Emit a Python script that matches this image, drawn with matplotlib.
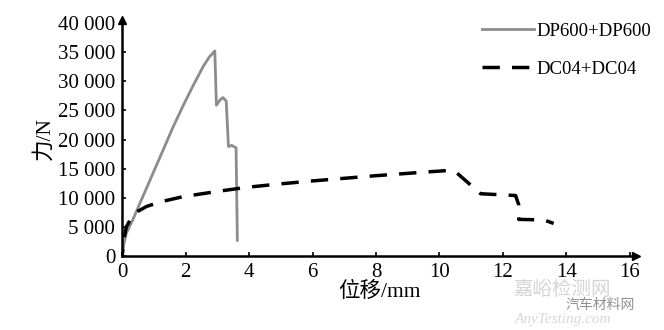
import matplotlib.pyplot as plt
from matplotlib.lines import Line2D
import numpy as np

# DP600+DP600 curve (displacement mm, force N)
dp_x = [0.0, 0.05, 0.13, 0.34, 0.65, 0.97, 1.29, 1.6, 1.92, 2.24, 2.55, 2.75, 2.92,
        2.97, 3.1, 3.18, 3.28, 3.35, 3.45, 3.59, 3.63]
dp_y = [0, 2000, 3900, 6300, 10200, 14200, 18200, 22100, 25800, 29300, 32500, 34200, 35200,
        25900, 26900, 27200, 26600, 18800, 19000, 18600, 2700]

# DC04+DC04 curve
dc_x = [0.0, 0.05, 0.13, 0.3, 0.5, 0.76, 1.2, 1.92, 3.0, 3.92, 5.0, 6.0, 8.0, 9.5, 10.3, 10.5, 11.3, 12.0,
        12.4, 12.5, 12.5, 13.3, 13.6]
dc_y = [0, 2800, 5000, 6700, 7700, 8500, 9300, 10200, 11100, 11800, 12400, 12900, 13800, 14400, 14700,
        14500, 10700, 10500, 10400, 8800, 6300, 6200, 5600]

x_ticks = [0, 2, 4, 6, 8, 10, 12, 14, 16]
y_ticks = [0, 5000, 10000, 15000, 20000, 25000, 30000, 35000, 40000]
y_labels = ['0', '5 000', '10 000', '15 000', '20 000', '25 000', '30 000', '35 000', '40 000']
series_names = ['DP600+DP600', 'DC04+DC04']

serif = ['Liberation Serif', 'Noto Sans CJK SC']

fig = plt.figure(figsize=(6.64, 3.30), dpi=100)
ax = fig.add_axes([0.184, 0.224, 0.774, 0.715])

ax.plot(dp_x, dp_y, color='#8c8c8c', lw=2)
ax.plot(dc_x, dc_y, color='black', lw=2.5, ls=(3, (5, 3.5)))

ax.set_xlim(0, 16.2)
ax.set_ylim(0, 40500)
ax.set_xticks(x_ticks)
ax.set_xticklabels([str(t) for t in x_ticks], family=serif, fontsize=15)
ax.set_yticks(y_ticks)
ax.set_yticklabels(y_labels, family=serif, fontsize=15)
ax.tick_params(direction='in', length=3, width=1.2, pad=5)

for s in ['top', 'right']:
    ax.spines[s].set_visible(False)
for s in ['left', 'bottom']:
    ax.spines[s].set_linewidth(1.8)

# arrow heads on the axes
ax.plot(1, 0, '>', color='black', ms=6, transform=ax.transAxes, clip_on=False)
ax.plot(0, 1, '^', color='black', ms=6, transform=ax.transAxes, clip_on=False)

ax.set_xlabel('位移/mm', family=serif, fontsize=15.5, labelpad=0)
ax.set_ylabel('力/N', family=serif, fontsize=15.5, labelpad=2)

handles = [Line2D([], [], color='#8c8c8c', lw=2),
           Line2D([], [], color='black', lw=2.5, ls=(0, (5, 3.5)))]
ax.legend(handles, series_names, loc='upper right', bbox_to_anchor=(1.062, 1.06), frameon=False,
          prop={'family': serif, 'size': 13.5}, labelspacing=1.1,
          handlelength=2.8, handletextpad=0.1)

# watermark
fig.text(0.773, 0.148, '嘉峪检测网', family=serif, fontsize=14, color='#d4d4d4', va='top')
fig.text(0.851, 0.095, '汽车材料网', family=serif, fontsize=10, color='#909090', va='top')
fig.text(0.776, 0.053, 'AnyTesting.com', family=serif, fontsize=11, color='#d8d8d8', style='italic', va='top')

fig.savefig('out.png', dpi=100)
